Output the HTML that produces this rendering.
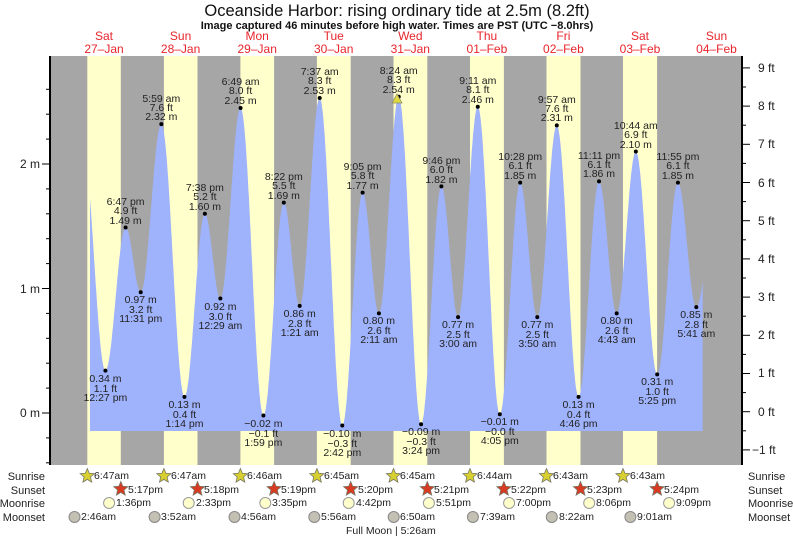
<!DOCTYPE html>
<html><head><meta charset="utf-8"><style>
html,body{margin:0;padding:0;background:#fff;}
svg{display:block;font-family:"Liberation Sans",sans-serif;}
.l text{font-size:10.5px;fill:#222;text-anchor:middle;}
.b{font-size:12px;fill:#222;}
.r{font-size:11px;fill:#222;}
.d{font-size:12px;fill:#e8242c;text-anchor:middle;}
</style></head><body>
<svg id="s" width="793" height="539" viewBox="0 0 793 539" xmlns="http://www.w3.org/2000/svg">
<text x="397" y="16" font-size="16.5" text-anchor="middle" fill="#111">Oceanside Harbor: rising  ordinary tide at 2.5m (8.2ft)</text>
<text x="397" y="29" font-size="11" font-weight="bold" text-anchor="middle" fill="#111">Image captured 46 minutes before high water. Times are PST (UTC −8.0hrs)</text>
<g class="d">
<text x="104" y="40">Sat</text><text x="104" y="53">27–Jan</text>
<text x="180.6" y="40">Sun</text><text x="180.6" y="53">28–Jan</text>
<text x="257.2" y="40">Mon</text><text x="257.2" y="53">29–Jan</text>
<text x="333.7" y="40">Tue</text><text x="333.7" y="53">30–Jan</text>
<text x="410.3" y="40">Wed</text><text x="410.3" y="53">31–Jan</text>
<text x="486.9" y="40">Thu</text><text x="486.9" y="53">01–Feb</text>
<text x="563.4" y="40">Fri</text><text x="563.4" y="53">02–Feb</text>
<text x="640" y="40">Sat</text><text x="640" y="53">03–Feb</text>
<text x="716.5" y="40">Sun</text><text x="716.5" y="53">04–Feb</text>
</g>
<rect x="50" y="56" width="692" height="409" fill="#a6a6a6"/>
<g fill="#ffffcc">
<rect x="87.3" y="56" width="33.5" height="409"/>
<rect x="163.9" y="56" width="33.6" height="409"/>
<rect x="240.4" y="56" width="33.7" height="409"/>
<rect x="316.9" y="56" width="33.8" height="409"/>
<rect x="393.5" y="56" width="33.8" height="409"/>
<rect x="470" y="56" width="33.9" height="409"/>
<rect x="546.5" y="56" width="34" height="409"/>
<rect x="623" y="56" width="34.1" height="409"/>
</g>
<path id="tide" fill="#9fb2fc" d=""/>
<g id="dots" fill="#000"></g>
<polygon points="397,94 392,103 402,103" fill="#e0d840" stroke="#886" stroke-width="0.7"/>
<line x1="50" y1="56" x2="50" y2="465" stroke="#000" stroke-width="2"/>
<line x1="742" y1="56" x2="742" y2="465" stroke="#000" stroke-width="2"/>
<g id="ticks" stroke="#000" stroke-width="1"></g>
<g class="b">
<text x="40" y="168" text-anchor="end">2 m</text>
<text x="40" y="293" text-anchor="end">1 m</text>
<text x="40" y="417" text-anchor="end">0 m</text>
<text x="758" y="72">9 ft</text><text x="758" y="110">8 ft</text><text x="758" y="148">7 ft</text>
<text x="758" y="187">6 ft</text><text x="758" y="225">5 ft</text><text x="758" y="263">4 ft</text>
<text x="758" y="301">3 ft</text><text x="758" y="339">2 ft</text><text x="758" y="377">1 ft</text>
<text x="758" y="416">0 ft</text><text x="752" y="454">−1 ft</text>
</g>
<g class="l">
<text x="105.4" y="382">0.34 m</text><text x="105.4" y="392">1.1 ft</text><text x="105.4" y="401">12:27 pm</text>
<text x="125.6" y="205">6:47 pm</text><text x="125.6" y="214">4.9 ft</text><text x="125.6" y="224">1.49 m</text>
<text x="140.7" y="303">0.97 m</text><text x="140.7" y="313">3.2 ft</text><text x="140.7" y="322">11:31 pm</text>
<text x="161.3" y="102">5:59 am</text><text x="161.3" y="111">7.6 ft</text><text x="161.3" y="120">2.32 m</text>
<text x="184.5" y="408">0.13 m</text><text x="184.5" y="418">0.4 ft</text><text x="184.5" y="427">1:14 pm</text>
<text x="204.9" y="191">7:38 pm</text><text x="204.9" y="200">5.2 ft</text><text x="204.9" y="210">1.60 m</text>
<text x="220.4" y="310">0.92 m</text><text x="220.4" y="320">3.0 ft</text><text x="220.4" y="329">12:29 am</text>
<text x="240.6" y="85">6:49 am</text><text x="240.6" y="94">8.0 ft</text><text x="240.6" y="104">2.45 m</text>
<text x="263.4" y="427">−0.02 m</text><text x="263.4" y="437">−0.1 ft</text><text x="263.4" y="446">1:59 pm</text>
<text x="283.8" y="180">8:22 pm</text><text x="283.8" y="189">5.5 ft</text><text x="283.8" y="199">1.69 m</text>
<text x="299.7" y="317">0.86 m</text><text x="299.7" y="327">2.8 ft</text><text x="299.7" y="336">1:21 am</text>
<text x="319.7" y="75">7:37 am</text><text x="319.7" y="84">8.3 ft</text><text x="319.7" y="94">2.53 m</text>
<text x="342.3" y="437">−0.10 m</text><text x="342.3" y="447">−0.3 ft</text><text x="342.3" y="456">2:42 pm</text>
<text x="362.6" y="170">9:05 pm</text><text x="362.6" y="179">5.8 ft</text><text x="362.6" y="189">1.77 m</text>
<text x="378.9" y="324">0.80 m</text><text x="378.9" y="334">2.6 ft</text><text x="378.9" y="343">2:11 am</text>
<text x="398.7" y="74">8:24 am</text><text x="398.7" y="83">8.3 ft</text><text x="398.7" y="93">2.54 m</text>
<text x="421.1" y="435">−0.09 m</text><text x="421.1" y="445">−0.3 ft</text><text x="421.1" y="454">3:24 pm</text>
<text x="441.4" y="164">9:46 pm</text><text x="441.4" y="173">6.0 ft</text><text x="441.4" y="183">1.82 m</text>
<text x="458.1" y="328">0.77 m</text><text x="458.1" y="338">2.5 ft</text><text x="458.1" y="347">3:00 am</text>
<text x="477.8" y="84">9:11 am</text><text x="477.8" y="93">8.1 ft</text><text x="477.8" y="103">2.46 m</text>
<text x="499.8" y="425">−0.01 m</text><text x="499.8" y="435">−0.0 ft</text><text x="499.8" y="444">4:05 pm</text>
<text x="520.2" y="160">10:28 pm</text><text x="520.2" y="169">6.1 ft</text><text x="520.2" y="179">1.85 m</text>
<text x="537.3" y="328">0.77 m</text><text x="537.3" y="338">2.5 ft</text><text x="537.3" y="347">3:50 am</text>
<text x="556.8" y="103">9:57 am</text><text x="556.8" y="112">7.6 ft</text><text x="556.8" y="121">2.31 m</text>
<text x="578.6" y="408">0.13 m</text><text x="578.6" y="418">0.4 ft</text><text x="578.6" y="427">4:46 pm</text>
<text x="599" y="159">11:11 pm</text><text x="599" y="168">6.1 ft</text><text x="599" y="177">1.86 m</text>
<text x="616.7" y="324">0.80 m</text><text x="616.7" y="334">2.6 ft</text><text x="616.7" y="343">4:43 am</text>
<text x="635.8" y="129">10:44 am</text><text x="635.8" y="138">6.9 ft</text><text x="635.8" y="148">2.10 m</text>
<text x="657.2" y="385">0.31 m</text><text x="657.2" y="395">1.0 ft</text><text x="657.2" y="404">5:25 pm</text>
<text x="677.9" y="160">11:55 pm</text><text x="677.9" y="169">6.1 ft</text><text x="677.9" y="179">1.85 m</text>
<text x="696.3" y="318">0.85 m</text><text x="696.3" y="328">2.8 ft</text><text x="696.3" y="337">5:41 am</text>
</g>
<g class="r">
<text x="45" y="480" text-anchor="end">Sunrise</text>
<text x="45" y="494" text-anchor="end">Sunset</text>
<text x="45" y="507" text-anchor="end">Moonrise</text>
<text x="45" y="521" text-anchor="end">Moonset</text>
<text x="748" y="480">Sunrise</text>
<text x="748" y="494">Sunset</text>
<text x="748" y="507">Moonrise</text>
<text x="748" y="521">Moonset</text>
</g>
<g id="icons"></g>
<g font-size="10.5" fill="#222">
<text x="94" y="479">6:47am</text><text x="171" y="479">6:47am</text><text x="247" y="479">6:46am</text><text x="324" y="479">6:45am</text>
<text x="400" y="479">6:45am</text><text x="477" y="479">6:44am</text><text x="553" y="479">6:43am</text><text x="630" y="479">6:43am</text>
<text x="128" y="493">5:17pm</text><text x="204" y="493">5:18pm</text><text x="281" y="493">5:19pm</text><text x="358" y="493">5:20pm</text>
<text x="434" y="493">5:21pm</text><text x="511" y="493">5:22pm</text><text x="587" y="493">5:23pm</text><text x="664" y="493">5:24pm</text>
<text x="116" y="506">1:36pm</text><text x="196" y="506">2:33pm</text><text x="272" y="506">3:35pm</text><text x="356" y="506">4:42pm</text>
<text x="436" y="506">5:51pm</text><text x="516" y="506">7:00pm</text><text x="596" y="506">8:06pm</text><text x="676" y="506">9:09pm</text>
<text x="81" y="520">2:46am</text><text x="161" y="520">3:52am</text><text x="241" y="520">4:56am</text><text x="321" y="520">5:56am</text>
<text x="400" y="520">6:50am</text><text x="480" y="520">7:39am</text><text x="559" y="520">8:22am</text><text x="637" y="520">9:01am</text>
<text x="346" y="534">Full Moon | 5:26am</text>
</g>
</svg>
<script>
(function(){
var X=function(t){return 65.7+t*3.19},Y=function(h){return 413-h*124.5};
var e=[[5.33,2.15],[12.45,.34],[18.78,1.49],[23.52,.97],[29.98,2.32],[37.23,.13],[43.63,1.60],[48.48,.92],[54.82,2.45],[61.98,-.02],[68.37,1.69],[73.35,.86],[79.62,2.53],[86.7,-.10],[93.08,1.77],[98.18,.80],[104.4,2.54],[111.4,-.09],[117.77,1.82],[123,.77],[129.18,2.46],[136.08,-.01],[142.47,1.85],[147.83,.77],[153.95,2.31],[160.77,.13],[167.18,1.86],[172.72,.80],[178.73,2.10],[185.42,.31],[191.92,1.85],[197.68,.85],[204.67,1.95]];
function h(t){for(var i=0;i<e.length-1;i++){if(t>=e[i][0]&&t<=e[i+1][0]){var f=(t-e[i][0])/(e[i+1][0]-e[i][0]);return e[i+1][1]+(e[i][1]-e[i+1][1])*(1+Math.cos(Math.PI*f))/2;}}return 0;}
var t0=(90-65.7)/3.19,t1=(702.7-65.7)/3.19,d="M90,431";
for(var t=t0;t<=t1+1e-6;t+=0.1){d+=" L"+X(t).toFixed(1)+","+Y(h(t)).toFixed(1);}
d+=" L702.7,"+Y(h(t1)).toFixed(1)+" L702.7,431 Z";
document.getElementById("tide").setAttribute("d",d);
var ns="http://www.w3.org/2000/svg",g=document.getElementById("dots");
for(var i=1;i<e.length-1;i++){var c=document.createElementNS(ns,"circle");c.setAttribute("cx",X(e[i][0]));c.setAttribute("cy",Y(e[i][1]));c.setAttribute("r",2);g.appendChild(c);}
var tk=document.getElementById("ticks"),s="";
for(var k=-2;k<=13;k++){var y=Y(k*0.2);if(y<57||y>464)continue;var L=(k%5==0)?8:4;s+='<line x1="'+(50-L)+'" y1="'+y+'" x2="50" y2="'+y+'"/>';}
for(var k=-3;k<=19;k++){var y=411.7-k*0.5*38.2;if(y<57||y>464)continue;var L=(k%2==0)?8:4;s+='<line x1="742" y1="'+y+'" x2="'+(742+L)+'" y2="'+y+'"/>';}
tk.innerHTML=s;
function star(cx,cy,r,fill){var p=[];for(var j=0;j<10;j++){var a=-Math.PI/2+j*Math.PI/5,rr=j%2?r*0.45:r;p.push((cx+rr*Math.cos(a)).toFixed(1)+","+(cy+rr*Math.sin(a)).toFixed(1));}return '<polygon points="'+p.join(" ")+'" fill="'+fill+'" stroke="#776" stroke-width="0.8"/>';}
var sr=[87.3,163.9,240.4,316.9,393.5,470,546.5,623],ss=[120.8,197.5,274.1,350.7,427.3,503.9,580.5,657.1],mr=[109.1,188.7,265.3,348.7,428.9,509.1,589.2,669.1],ms=[74.5,154.6,234.5,314.3,393.7,472.9,551.8,630.4],o="";
for(var j=0;j<8;j++){o+=star(sr[j],476,7.5,"#d8d030");o+=star(ss[j],489,7.5,"#d83a22");o+='<circle cx="'+mr[j]+'" cy="503" r="5.5" fill="#ffffcc" stroke="#999"/>';o+='<circle cx="'+ms[j]+'" cy="517" r="5.5" fill="#c4c0b4" stroke="#888"/>';}
document.getElementById("icons").innerHTML=o;
})();
</script>
</body></html>
